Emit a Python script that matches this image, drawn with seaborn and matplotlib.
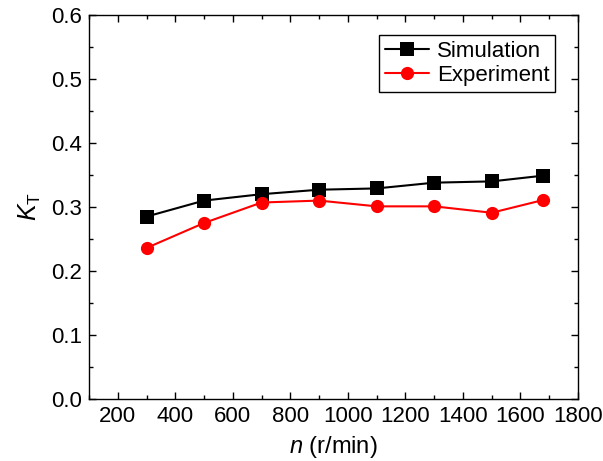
import matplotlib
matplotlib.use("Agg")
import matplotlib.pyplot as plt
from matplotlib.ticker import MultipleLocator
import pandas as pd
import seaborn as sns

# speed (r/min) and torque coefficient K_T
speed = [300, 500, 700, 900, 1100, 1300, 1500, 1680]
kt_sim = [0.285, 0.310, 0.320, 0.327, 0.329, 0.338, 0.340, 0.349]
kt_exp = [0.236, 0.275, 0.307, 0.310, 0.301, 0.301, 0.291, 0.311]
series = ["Simulation", "Experiment"]

sns.set_style("ticks")
plt.rcParams["font.family"] = ["Liberation Sans", "DejaVu Sans"]
plt.rcParams["mathtext.fontset"] = "custom"
plt.rcParams["mathtext.rm"] = "Liberation Sans"
plt.rcParams["mathtext.it"] = "Liberation Sans:italic"
plt.rcParams["text.color"] = "black"
plt.rcParams["axes.labelcolor"] = "black"
plt.rcParams["xtick.color"] = "black"
plt.rcParams["ytick.color"] = "black"

df = pd.concat([
    pd.DataFrame({"n": speed, "kt": kt_sim, "case": series[0]}),
    pd.DataFrame({"n": speed, "kt": kt_exp, "case": series[1]}),
])

fig = plt.figure(figsize=(6.03, 4.61), dpi=100)
ax = fig.add_axes([0.1476, 0.1345, 0.8109, 0.833])

sns.lineplot(data=df, x="n", y="kt", hue="case", style="case",
             palette={"Simulation": "black", "Experiment": "red"},
             markers={"Simulation": "s", "Experiment": "o"},
             dashes=False, linewidth=1.5, markersize=9.5,
             markeredgewidth=0, ax=ax)

ax.set_xlim(100, 1800)
ax.set_ylim(0, 0.6)
ax.xaxis.set_major_locator(MultipleLocator(200))
ax.xaxis.set_minor_locator(MultipleLocator(100))
ax.yaxis.set_major_locator(MultipleLocator(0.1))
ax.yaxis.set_minor_locator(MultipleLocator(0.05))
ax.set_yticks([0, 0.1, 0.2, 0.3, 0.4, 0.5, 0.6])
ax.set_yticklabels(["0.0", "0.1", "0.2", "0.3", "0.4", "0.5", "0.6"])
ax.tick_params(which="both", direction="in", top=True, right=True,
               labeltop=False, labelright=False, labelsize=16, width=1)
ax.tick_params(which="major", length=5, pad=5)
ax.tick_params(which="minor", length=3)
for s in ax.spines.values():
    s.set_linewidth(1)
    s.set_color("black")

ax.set_xlabel(r"$\mathit{n}$ (r/min)", fontsize=17, labelpad=5)
ax.set_ylabel(r"$\mathit{K}_\mathrm{T}$", fontsize=18, labelpad=6)

leg = ax.legend(loc="upper right", bbox_to_anchor=(0.953, 0.947),
                fontsize=16, frameon=True, fancybox=False, framealpha=1,
                edgecolor="black", borderpad=0.25, labelspacing=0.15,
                handlelength=2.0, handletextpad=0.35, borderaxespad=0)
leg.get_frame().set_linewidth(1)

fig.savefig("out.png", dpi=100)
